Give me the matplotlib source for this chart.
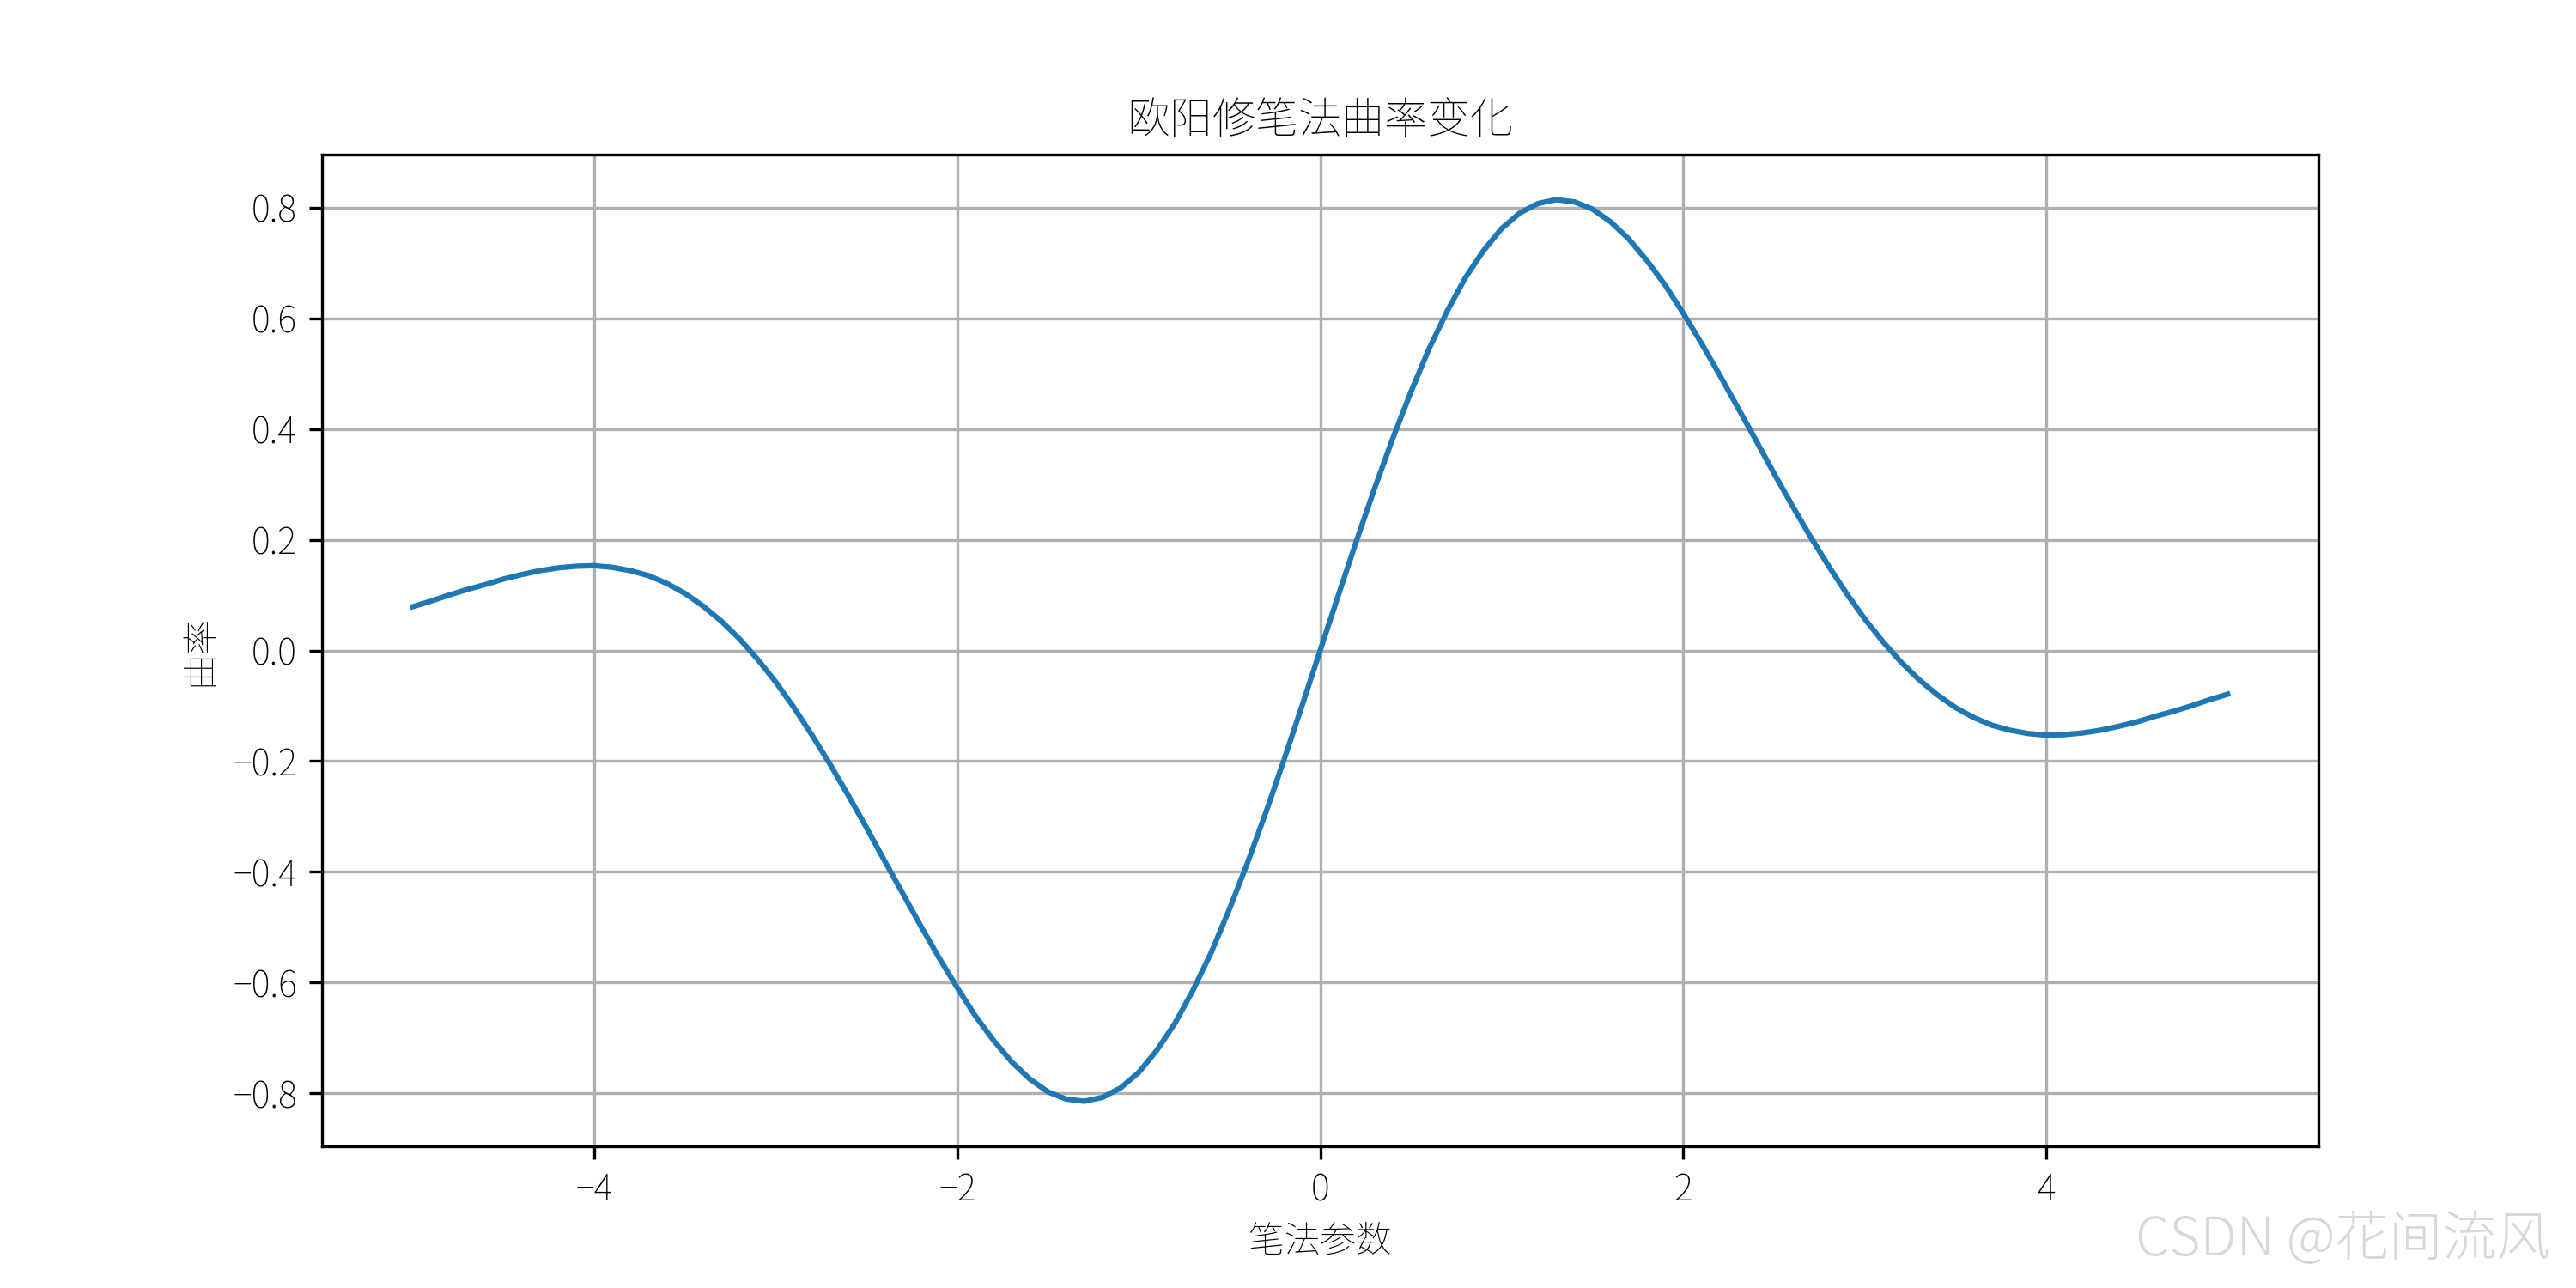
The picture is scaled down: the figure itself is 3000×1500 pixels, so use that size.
import matplotlib
matplotlib.use('Agg')
import matplotlib.pyplot as plt

plt.rcParams['font.family'] = ['Noto Sans CJK JP', 'DejaVu Sans']
plt.rcParams['font.weight'] = 100
plt.rcParams['axes.titleweight'] = 100
plt.rcParams['axes.labelweight'] = 100

# brush parameter, -5 .. 5
x_vals = [round(-5 + 0.1 * i, 1) for i in range(101)]

# curvature (positive half, x = 0.0 .. 5.0)
curv_pos = [0.0, 0.0997, 0.198, 0.293, 0.383, 0.467, 0.545, 0.613, 0.673, 0.722,
            0.762, 0.790, 0.807, 0.814, 0.810, 0.797, 0.774, 0.743, 0.704, 0.660,
            0.609, 0.555, 0.498, 0.439, 0.380, 0.320, 0.262, 0.206, 0.153, 0.103,
            0.057, 0.016, -0.021, -0.053, -0.080, -0.103, -0.121, -0.135, -0.144, -0.150,
            -0.153, -0.152, -0.149, -0.144, -0.137, -0.129, -0.119, -0.110, -0.100, -0.089,
            -0.079]
# negative half mirrors it (x = -5.0 .. -0.1)
curv_neg = [0.079, 0.089, 0.100, 0.110, 0.119, 0.129, 0.137, 0.144, 0.149, 0.152,
            0.153, 0.150, 0.144, 0.135, 0.121, 0.103, 0.080, 0.053, 0.021, -0.016,
            -0.057, -0.103, -0.153, -0.206, -0.262, -0.320, -0.380, -0.439, -0.498, -0.555,
            -0.609, -0.660, -0.704, -0.743, -0.774, -0.797, -0.810, -0.814, -0.807, -0.790,
            -0.762, -0.722, -0.673, -0.613, -0.545, -0.467, -0.383, -0.293, -0.198, -0.0997]
curvature = curv_neg + curv_pos

fig, ax = plt.subplots(figsize=(10, 5), dpi=300)

ax.plot(x_vals, curvature, color='#1f77b4', linewidth=1.5)

ax.set_title('欧阳修笔法曲率变化')
ax.set_xlabel('笔法参数')
ax.set_ylabel('曲率')
ax.grid(True)

# watermark
fig.text(0.99, 0.015, 'CSDN @花间流风', fontsize=15, color='#d8d8d8',
         ha='right', va='bottom', family=['Noto Sans CJK JP', 'DejaVu Sans'], weight=300)

plt.savefig('out.png')
